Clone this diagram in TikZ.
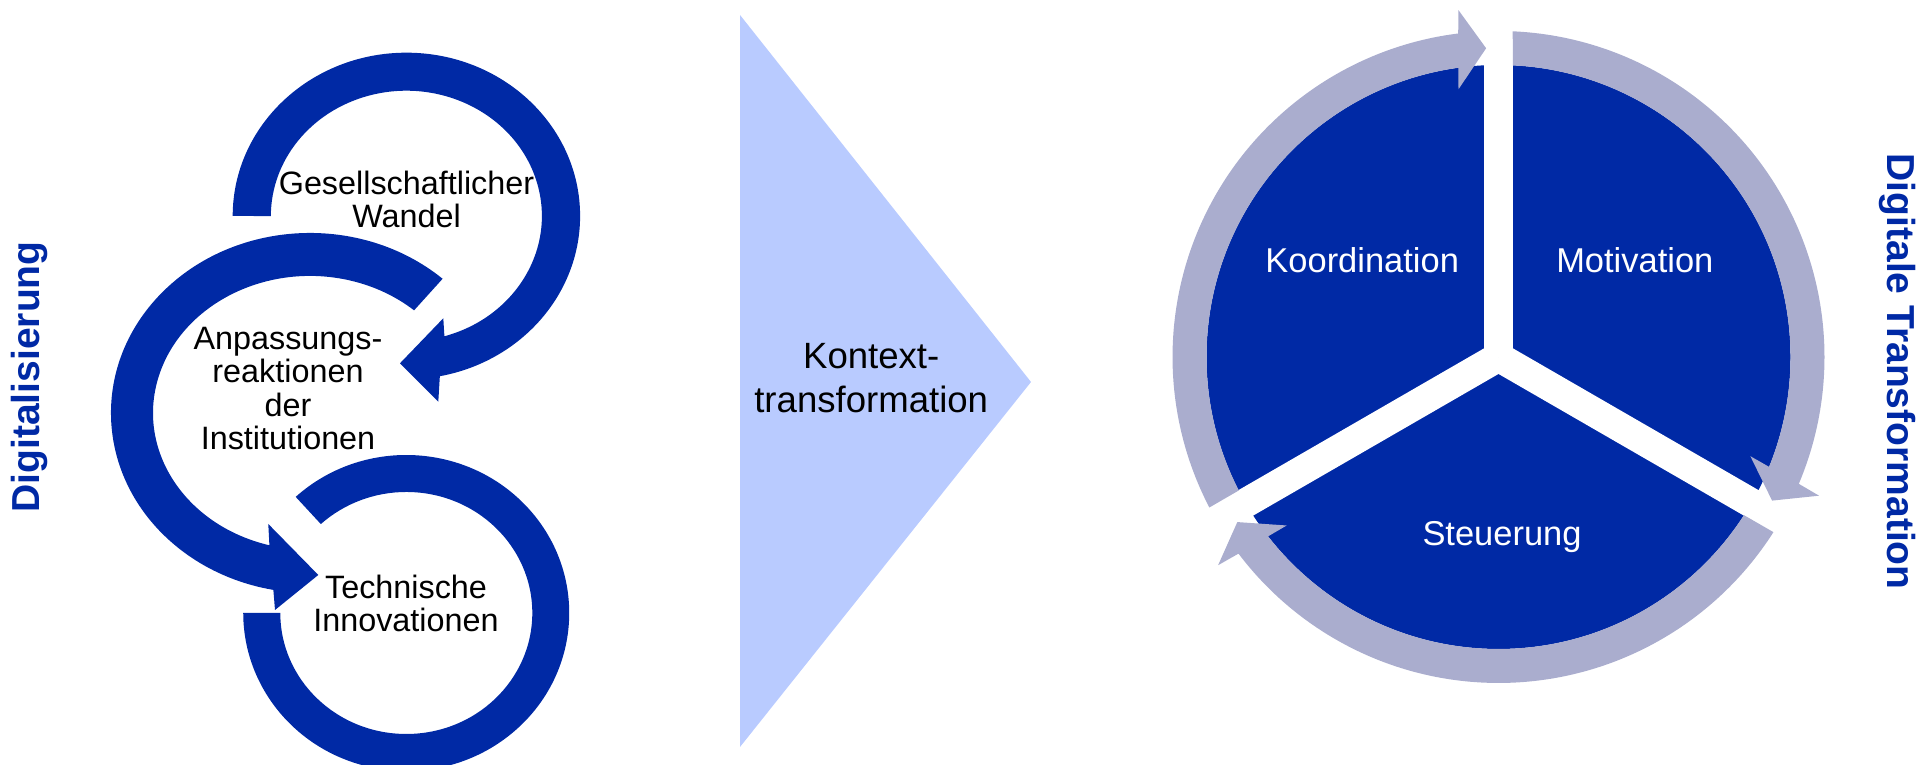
\documentclass[tikz,border=0pt]{standalone}
\usepackage{fontspec}
\setmainfont{Liberation Sans}
\definecolor{dkblue}{RGB}{0,41,165}
\definecolor{ringgray}{RGB}{170,173,206}
\definecolor{lightblue}{RGB}{185,203,255}

\begin{document}
\begin{tikzpicture}[x=0.01cm, y=0.01cm,
    looptext/.style={align=center, inner sep=0pt, font=\fontsize{9.2pt}{9.53pt}\selectfont},
    pietext/.style={anchor=base, inner sep=0pt, text=white, font=\fontsize{9.8pt}{11pt}\selectfont},
    sidetext/.style={inner sep=0pt, text=dkblue, font=\bfseries\fontsize{11.1pt}{13pt}\selectfont},
    loopshape/.style={fill=dkblue},
    ringarrow/.style={fill=ringgray},
    gapline/.style={draw=white, line width=0.294cm}]
  \useasboundingbox (0,0) rectangle (1921,765);

  % Schleifen
  \fill[loopshape] (232.7,549) arc[start angle=180, end angle=-78.9, x radius=173.7, y radius=163.3]
    -- (438.3,363.3) -- (400,401.7) -- (443.3,446.7) -- (444.4,428.7)
    arc[start angle=-73.7, end angle=180, x radius=135.5, y radius=125.3] -- cycle;
  \fill[loopshape] (442.6,486.2) arc[start angle=48.2, end angle=259.4, x radius=199, y radius=180]
    -- (275,155) -- (318.3,190) -- (268.3,241) -- (269.4,219.7)
    arc[start angle=255, end angle=48.5, x radius=157, y radius=137] -- cycle;
  \fill[loopshape] (295.7,268.1) arc[start angle=132.7, end angle=-180, x radius=163, y radius=158]
    -- (280.3,152) arc[start angle=-180, end angle=132.7, x radius=126, y radius=121] -- cycle;

  \node[looptext] (gesell) at (406.5,565.4) {Gesellschaftlicher\\Wandel};
  \node[looptext] (anpass) at (288,376.6) {Anpassungs-\\reaktionen\\der\\Institutionen};
  \node[looptext] (technik) at (406,161.5) {Technische\\Innovationen};
  \node[sidetext, rotate=90] (digi) at (29,388) {Digitalisierung};

  % Pfeil
  \fill[lightblue] (740,750) -- (1031,383) -- (740,18) -- cycle;
  \node[align=center, inner sep=0pt, font=\fontsize{10.4pt}{12.5pt}\selectfont] (kontext) at (871.2,387.1) {Kontext-\\transformation};

  % Kreis
  \begin{scope}[shift={(1498.5,408)}]
    \fill[dkblue] (0,0) circle[radius=292];
    \foreach \a in {90,210,330}
      \draw[gapline] (0,0) -- (\a:305);
    \foreach \rot in {0,-120,120}
      \fill[ringarrow, rotate=\rot] (207.5:326) arc[start angle=207.5, end angle=97.1, radius=326]
        -- (96.6:349.3) -- (92.3:309) -- (98.5:270.7) -- (97.9:292)
        arc[start angle=97.9, end angle=207.2, radius=292] -- cycle;
  \end{scope}

  \node[pietext] (koord) at (1362.2,492.3) {Koordination};
  \node[pietext] (motiv) at (1634.8,492.3) {Motivation};
  \node[pietext] (steuer) at (1502,219.3) {Steuerung};
  \node[sidetext, rotate=-90] (digitrans) at (1897.5,393.3) {Digitale Transformation};
\end{tikzpicture}
\end{document}
